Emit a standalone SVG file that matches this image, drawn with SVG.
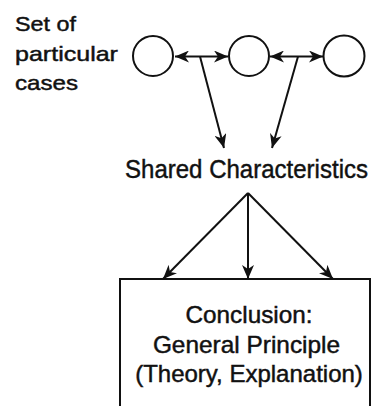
<svg xmlns="http://www.w3.org/2000/svg" width="374" height="406" viewBox="0 0 374 406">
  <defs>
    <marker id="arrow" markerUnits="userSpaceOnUse" markerWidth="14" markerHeight="12" viewBox="0 0 14 12" refX="14" refY="6" orient="auto-start-reverse">
      <path d="M0,0 L14,6 L0,12 L4,6 z" fill="#111"/>
    </marker>
  </defs>
  <style>
    .lbl { font-family: "Liberation Sans", Arial, sans-serif; fill: #111; stroke: #111; stroke-width: 0.45; }
    .edge { stroke: #111; stroke-width: 2; fill: none; marker-end: url(#arrow); }
    .case { fill: #fff; stroke: #111; stroke-width: 2; }
  </style>
  <rect width="374" height="406" fill="#fff"/>

  <!-- label for the cases row (condensed horizontally) -->
  <g id="cases-label" class="lbl" font-size="21" transform="translate(15,0) scale(0.9,1)">
    <text x="0" y="31.5" textLength="67.8" lengthAdjust="spacingAndGlyphs">Set of</text>
    <text x="0" y="61" textLength="114.4" lengthAdjust="spacingAndGlyphs">particular</text>
    <text x="0" y="90.5" textLength="70" lengthAdjust="spacingAndGlyphs">cases</text>
  </g>

  <!-- individual cases -->
  <g id="case-1"><circle class="case" cx="153" cy="56" r="20"/></g>
  <g id="case-2"><circle class="case" cx="249" cy="56" r="20"/></g>
  <g id="case-3"><circle class="case" cx="344" cy="56" r="20.5"/></g>

  <!-- shared characteristics -->
  <g id="shared" transform="translate(125,0) scale(0.9,1)">
    <text class="lbl" x="0" y="178" font-size="25.5" textLength="270" lengthAdjust="spacingAndGlyphs">Shared Characteristics</text>
  </g>

  <!-- conclusion box -->
  <g id="conclusion">
    <rect x="120" y="279" width="250" height="150" fill="none" stroke="#111" stroke-width="2"/>
    <g class="lbl" font-size="23.5" transform="translate(249,0) scale(0.9,1)">
      <text x="0" y="323" text-anchor="middle" textLength="141" lengthAdjust="spacingAndGlyphs">Conclusion:</text>
      <text x="-2.8" y="353" text-anchor="middle" textLength="208" lengthAdjust="spacingAndGlyphs">General Principle</text>
      <text x="0" y="382" text-anchor="middle" textLength="253" lengthAdjust="spacingAndGlyphs">(Theory, Explanation)</text>
    </g>
  </g>

  <!-- connectors -->
  <g id="connectors">
    <line class="edge" x1="200" y1="56.5" x2="175" y2="56.5"/>
    <line class="edge" x1="200" y1="56.5" x2="228" y2="56.5"/>
    <line class="edge" x1="298" y1="56.5" x2="270" y2="56.5"/>
    <line class="edge" x1="298" y1="56.5" x2="323" y2="56.5"/>
    <line class="edge" x1="200" y1="56.5" x2="224" y2="148"/>
    <line class="edge" x1="298" y1="56.5" x2="272" y2="148"/>
    <line class="edge" x1="248" y1="193" x2="163" y2="279"/>
    <line class="edge" x1="248" y1="193" x2="248" y2="279"/>
    <line class="edge" x1="248" y1="193" x2="333" y2="279"/>
  </g>
</svg>
